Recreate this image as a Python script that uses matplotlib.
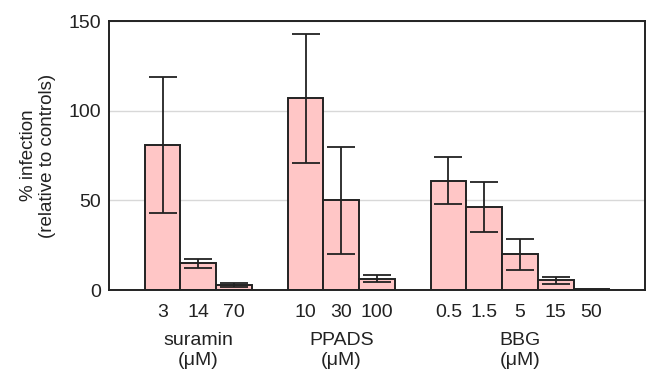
import matplotlib.pyplot as plt
import numpy as np

plt.rcParams['font.family'] = ['Liberation Sans', 'DejaVu Sans']

groups = ['suramin\n(μM)', 'PPADS\n(μM)', 'BBG\n(μM)']
doses = [['3', '14', '70'], ['10', '30', '100'], ['0.5', '1.5', '5', '15', '50']]
means = [[81, 15, 2.8], [107, 50, 6.2], [61, 46.5, 20, 5.5, 0.8]]
errors = [[38, 2.5, 1.0], [36, 30, 2.0], [13, 14, 8.6, 1.9, 0]]

bar_color = '#ffc6c6'
edge_color = '#222222'

fig = plt.figure(figsize=(6.46, 3.72), dpi=100)
ax = fig.add_axes([0.1687, 0.2204, 0.8298, 0.7231])

# each group starts one bar-width after the previous one ends
starts = [1, 5, 9]
ticks, tick_labels = [], []
for start, name, d, m, e in zip(starts, groups, doses, means, errors):
    x = start + 0.5 + np.arange(len(m))
    ax.bar(x, m, width=1.0, color=bar_color, edgecolor=edge_color, linewidth=1.4, zorder=2)
    has_err = np.array(e) > 0
    ax.errorbar(x[has_err], np.array(m)[has_err], yerr=np.array(e)[has_err], fmt='none',
                ecolor=edge_color, elinewidth=1.3, capsize=10, capthick=1.3, zorder=3)
    ticks.extend(x)
    tick_labels.extend(d)
    ax.text(x.mean(), -0.225, name, transform=ax.get_xaxis_transform(), ha='center', va='center',
            fontsize=14, color='#222222', linespacing=1.3)

ax.set_xlim(0, 15)
ax.set_ylim(0, 150)
ax.set_xticks(ticks)
ax.set_xticklabels(tick_labels)
ax.set_yticks([0, 50, 100, 150])
ax.tick_params(axis='both', length=0, labelsize=14, colors='#222222')
ax.tick_params(axis='x', pad=10)
ax.tick_params(axis='y', pad=6)
ax.yaxis.grid(True, color='#d8d8d8', linewidth=1.0, zorder=0)
ax.set_axisbelow(True)
for s in ax.spines.values():
    s.set_linewidth(1.4)
    s.set_color(edge_color)

ax.set_ylabel('% infection\n(relative to controls)', fontsize=13.5, color='#222222', linespacing=1.15)
ax.yaxis.set_label_coords(-0.098, 0.5)

fig.savefig('out.png', dpi=100)
